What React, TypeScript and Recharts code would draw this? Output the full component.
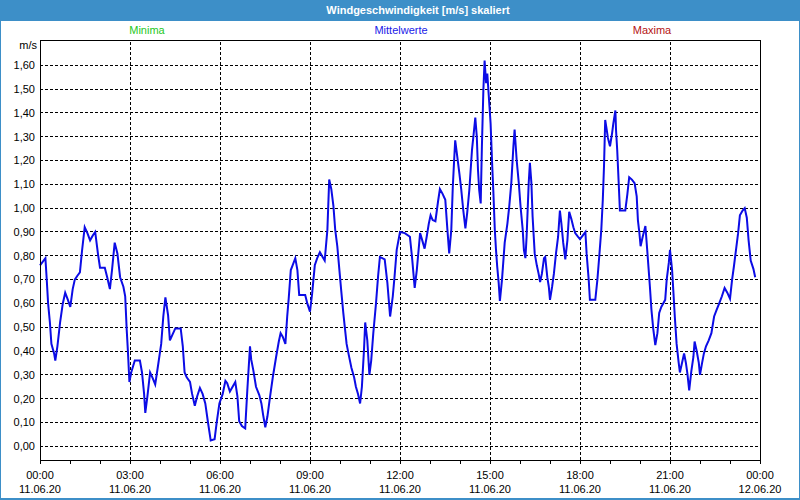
import React from 'react';
import { LineChart, Line, XAxis, YAxis, CartesianGrid, ReferenceLine } from 'recharts';

// time in hours since 11.06.20 00:00
const hours = [
  0, 0.18, 0.22, 0.27, 0.33, 0.38, 0.47, 0.51, 0.58, 0.67, 0.76, 0.84, 0.93, 1.01, 1.09, 1.16, 1.24, 1.33, 1.4, 1.49,
  1.58, 1.67, 1.76, 1.84, 1.93, 2.0, 2.16, 2.24, 2.33, 2.4, 2.49, 2.58, 2.67, 2.78, 2.84, 2.89, 2.93, 2.98, 3.04, 3.16,
  3.33, 3.4, 3.47, 3.51, 3.58, 3.67, 3.76, 3.84, 3.93, 4.04, 4.11, 4.18, 4.27, 4.33, 4.42, 4.51, 4.69, 4.76, 4.82, 4.89,
  5.0, 5.07, 5.16, 5.24, 5.33, 5.42, 5.51, 5.6, 5.69, 5.82, 5.89, 5.98, 6.09, 6.18, 6.24, 6.33, 6.42, 6.51, 6.58, 6.64,
  6.73, 6.84, 6.91, 7.0, 7.04, 7.11, 7.2, 7.31, 7.38, 7.44, 7.51, 7.58, 7.67, 7.76, 7.87, 7.96, 8.02, 8.09, 8.18, 8.24,
  8.29, 8.36, 8.42, 8.51, 8.58, 8.64, 8.84, 8.91, 9.0, 9.07, 9.16, 9.24, 9.33, 9.42, 9.49, 9.58, 9.64, 9.71, 9.78, 9.84,
  9.91, 9.98, 10.04, 10.11, 10.16, 10.22, 10.29, 10.38, 10.47, 10.53, 10.6, 10.67, 10.73, 10.8, 10.84, 10.91, 10.98, 11.04, 11.11, 11.2,
  11.27, 11.33, 11.49, 11.58, 11.67, 11.76, 11.82, 11.89, 12.0, 12.16, 12.33, 12.4, 12.49, 12.56, 12.62, 12.67, 12.73, 12.82, 12.89, 12.96,
  13.02, 13.09, 13.18, 13.27, 13.33, 13.42, 13.51, 13.58, 13.64, 13.71, 13.76, 13.8, 13.84, 13.91, 13.98, 14.04, 14.11, 14.18, 14.24, 14.31,
  14.4, 14.47, 14.51, 14.56, 14.6, 14.64, 14.69, 14.73, 14.78, 14.82, 14.87, 14.91, 14.96, 15.02, 15.07, 15.11, 15.16, 15.2, 15.24, 15.29,
  15.33, 15.4, 15.49, 15.58, 15.64, 15.71, 15.78, 15.82, 15.89, 15.96, 16.02, 16.09, 16.13, 16.18, 16.22, 16.29, 16.33, 16.38, 16.42, 16.49,
  16.56, 16.62, 16.67, 16.73, 16.8, 16.84, 16.91, 16.96, 17.0, 17.07, 17.13, 17.2, 17.27, 17.33, 17.38, 17.44, 17.51, 17.58, 17.64, 17.71,
  17.78, 17.84, 17.93, 18.0, 18.09, 18.18, 18.22, 18.29, 18.33, 18.51, 18.58, 18.64, 18.71, 18.76, 18.8, 18.84, 18.89, 18.93, 19.0, 19.07,
  19.11, 19.18, 19.2, 19.24, 19.29, 19.33, 19.51, 19.58, 19.64, 19.73, 19.82, 19.89, 19.93, 19.98, 20.02, 20.09, 20.18, 20.24, 20.29, 20.33,
  20.38, 20.44, 20.51, 20.58, 20.64, 20.71, 20.84, 20.89, 20.96, 21.0, 21.07, 21.11, 21.16, 21.22, 21.29, 21.33, 21.4, 21.47, 21.53, 21.58,
  21.64, 21.71, 21.78, 21.82, 21.89, 21.96, 22.0, 22.07, 22.13, 22.2, 22.29, 22.38, 22.47, 22.56, 22.64, 22.73, 22.82, 22.91, 23.0, 23.07,
  23.13, 23.2, 23.27, 23.33, 23.42, 23.49, 23.56, 23.62, 23.69, 23.78, 23.84,
];

// Mittelwerte [m/s]
const speed = [
  0.76, 0.79, 0.71, 0.6, 0.52, 0.43, 0.39, 0.36, 0.42, 0.52, 0.6, 0.645, 0.615, 0.585, 0.66, 0.7, 0.715, 0.73, 0.82, 0.92,
  0.895, 0.865, 0.885, 0.9, 0.81, 0.75, 0.75, 0.71, 0.66, 0.74, 0.855, 0.81, 0.71, 0.67, 0.63, 0.49, 0.4, 0.27, 0.31, 0.36,
  0.36, 0.31, 0.22, 0.14, 0.21, 0.31, 0.285, 0.26, 0.335, 0.43, 0.545, 0.625, 0.55, 0.445, 0.47, 0.495, 0.495, 0.42, 0.31, 0.29,
  0.27, 0.22, 0.17, 0.21, 0.245, 0.22, 0.18, 0.1, 0.025, 0.03, 0.1, 0.18, 0.22, 0.275, 0.265, 0.23, 0.25, 0.27, 0.21, 0.105,
  0.085, 0.075, 0.235, 0.42, 0.365, 0.32, 0.25, 0.215, 0.18, 0.13, 0.08, 0.125, 0.21, 0.29, 0.375, 0.44, 0.475, 0.46, 0.43, 0.545,
  0.62, 0.74, 0.76, 0.79, 0.74, 0.635, 0.635, 0.6, 0.565, 0.64, 0.76, 0.79, 0.815, 0.795, 0.78, 0.91, 1.12, 1.08, 1.01, 0.91,
  0.84, 0.74, 0.655, 0.56, 0.5, 0.43, 0.385, 0.33, 0.29, 0.25, 0.22, 0.18, 0.25, 0.405, 0.52, 0.445, 0.3, 0.36, 0.475, 0.6,
  0.715, 0.795, 0.785, 0.685, 0.545, 0.63, 0.715, 0.825, 0.9, 0.895, 0.88, 0.795, 0.665, 0.74, 0.825, 0.895, 0.87, 0.83, 0.88, 0.935,
  0.97, 0.95, 0.945, 1.03, 1.08, 1.06, 1.035, 0.91, 0.81, 0.91, 1.09, 1.19, 1.285, 1.215, 1.145, 1.08, 0.99, 0.915, 0.98, 1.075,
  1.245, 1.33, 1.38, 1.3, 1.16, 1.075, 1.02, 1.26, 1.5, 1.62, 1.525, 1.565, 1.47, 1.355, 1.19, 1.075, 0.91, 0.825, 0.755, 0.685,
  0.61, 0.7, 0.855, 0.935, 1.005, 1.105, 1.26, 1.33, 1.2, 1.105, 1.005, 0.91, 0.825, 0.79, 0.88, 1.105, 1.19, 1.105, 0.965, 0.81,
  0.76, 0.725, 0.69, 0.725, 0.79, 0.795, 0.71, 0.67, 0.615, 0.67, 0.725, 0.81, 0.88, 0.99, 0.935, 0.855, 0.785, 0.865, 0.985, 0.955,
  0.92, 0.895, 0.88, 0.87, 0.885, 0.9, 0.81, 0.7, 0.615, 0.615, 0.7, 0.795, 0.91, 1.035, 1.175, 1.37, 1.33, 1.295, 1.26, 1.315,
  1.355, 1.41, 1.33, 1.245, 1.105, 0.99, 0.99, 1.06, 1.13, 1.12, 1.105, 1.05, 0.95, 0.895, 0.84, 0.88, 0.925, 0.825, 0.74, 0.67,
  0.575, 0.495, 0.425, 0.475, 0.56, 0.585, 0.615, 0.7, 0.77, 0.825, 0.74, 0.655, 0.545, 0.43, 0.35, 0.31, 0.35, 0.39, 0.35, 0.305,
  0.235, 0.315, 0.375, 0.44, 0.4, 0.35, 0.3, 0.35, 0.39, 0.42, 0.445, 0.475, 0.545, 0.575, 0.6, 0.63, 0.665, 0.645, 0.62, 0.7,
  0.755, 0.825, 0.895, 0.97, 0.99, 1.0, 0.96, 0.865, 0.78, 0.745, 0.71,
];

const yTicks = [0, 0.1, 0.2, 0.3, 0.4, 0.5, 0.6, 0.7, 0.8, 0.9, 1.0, 1.1, 1.2, 1.3, 1.4, 1.5, 1.6];
const hourTicks = [0, 1, 2, 3, 4, 5, 6, 7, 8, 9, 10, 11, 12, 13, 14, 15, 16, 17, 18, 19, 20, 21, 22, 23, 24];
const gridHours = [3, 6, 9, 12, 15, 18, 21];
const timeLabels = ['00:00', '03:00', '06:00', '09:00', '12:00', '15:00', '18:00', '21:00', '00:00'];
const dateLabels = ['11.06.20', '11.06.20', '11.06.20', '11.06.20', '11.06.20', '11.06.20', '11.06.20', '11.06.20', '12.06.20'];

const data = hours.map((h, i) => ({ t: h, v: speed[i] }));

const FONT = '"Liberation Sans", Arial, sans-serif';
const BLUE_FRAME = '#3d8fc8';

const TimeTick = (props: any) => {
  const { x, y, payload } = props;
  const h = payload.value;
  if (h % 3 !== 0) return null;
  const idx = h / 3;
  return (
    <g>
      <text x={x} y={y} dy={15} textAnchor="middle" fontSize={11} fontFamily={FONT} fill="#000">
        {timeLabels[idx]}
      </text>
      <text x={x} y={y} dy={29} textAnchor="middle" fontSize={11} fontFamily={FONT} fill="#000">
        {dateLabels[idx]}
      </text>
    </g>
  );
};

const App = () => {
  return (
    <div
      style={{
        position: 'absolute',
        left: 0,
        top: 0,
        width: 800,
        height: 500,
        background: '#fff',
        fontFamily: FONT,
        overflow: 'hidden',
      }}
    >
      <LineChart width={800} height={500} data={data} margin={{ top: 40, right: 40, bottom: 0, left: 0 }}>
        <CartesianGrid vertical={false} stroke="#000" strokeDasharray="3 2" shapeRendering="crispEdges" />
        {gridHours.map((h) => (
          <ReferenceLine key={h} x={h} stroke="#000" strokeDasharray="3 2" shapeRendering="crispEdges" />
        ))}
        <XAxis
          dataKey="t"
          type="number"
          domain={[0, 24]}
          ticks={hourTicks}
          interval={0}
          height={40}
          tickSize={4}
          tickMargin={0}
          axisLine={false}
          tickLine={{ stroke: '#000', shapeRendering: 'crispEdges' }}
          tick={<TimeTick />}
        />
        <YAxis
          type="number"
          domain={[-0.0575, 1.706]}
          ticks={yTicks}
          interval={0}
          width={40}
          tickSize={0}
          tickMargin={5}
          axisLine={false}
          tickLine={false}
          allowDataOverflow
          tick={{ fill: '#000', fontSize: 11, fontFamily: FONT }}
          tickFormatter={(v: number) => v.toFixed(2).replace('.', ',')}
        />
        <Line
          type="linear"
          dataKey="v"
          stroke="#0c0ce6"
          strokeWidth={2}
          dot={false}
          isAnimationActive={false}
        />
      </LineChart>

      {/* plot frame */}
      <div
        style={{
          position: 'absolute',
          left: 40,
          top: 40,
          width: 721,
          height: 421,
          border: '1px solid #000',
          boxSizing: 'border-box',
          pointerEvents: 'none',
        }}
      />

      {/* title bar */}
      <div
        style={{
          position: 'absolute',
          left: 0,
          top: 0,
          width: 800,
          height: 21,
          background: BLUE_FRAME,
          color: '#fff',
          fontWeight: 'bold',
          fontSize: 11,
          lineHeight: '21px',
        }}
      >
        <span style={{ position: 'absolute', left: 268, width: 300, textAlign: 'center' }}>
          Windgeschwindigkeit [m/s] skaliert
        </span>
      </div>

      {/* series captions */}
      <div style={{ position: 'absolute', top: 24, left: 97, width: 100, textAlign: 'center', fontSize: 11, color: '#1ec81e' }}>
        Minima
      </div>
      <div style={{ position: 'absolute', top: 24, left: 351, width: 100, textAlign: 'center', fontSize: 11, color: '#2020e8' }}>
        Mittelwerte
      </div>
      <div style={{ position: 'absolute', top: 24, left: 602, width: 100, textAlign: 'center', fontSize: 11, color: '#b41414' }}>
        Maxima
      </div>
      <div style={{ position: 'absolute', top: 39, left: 0, width: 37, textAlign: 'right', fontSize: 11, color: '#000' }}>
        m/s
      </div>

      {/* outer frame */}
      <div
        style={{
          position: 'absolute',
          left: 0,
          top: 0,
          width: 800,
          height: 500,
          border: `1px solid ${BLUE_FRAME}`,
          borderBottomWidth: 2,
          boxSizing: 'border-box',
          pointerEvents: 'none',
        }}
      />
    </div>
  );
};

export default App;
